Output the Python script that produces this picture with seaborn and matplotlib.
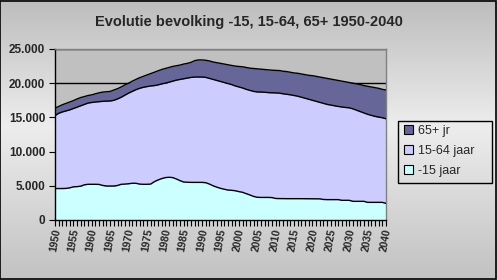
import numpy as np
import pandas as pd
import matplotlib
matplotlib.use("Agg")
import matplotlib.pyplot as plt
from matplotlib.patches import Rectangle
from matplotlib.ticker import FuncFormatter, MultipleLocator
import seaborn as sns

years = list(range(1950, 2041))

# -15 jaar (persons, thousands separator '.')
young = [4600, 4600, 4600, 4620, 4700, 4850, 4880, 4950, 5150, 5220,
         5220, 5220, 5200, 5050, 4970, 4970, 4970, 5050, 5220, 5250,
         5300, 5370, 5370, 5250, 5220, 5220, 5250, 5600, 5850, 6050,
         6200, 6250, 6200, 6000, 5750, 5550, 5520, 5500, 5500, 5500,
         5500, 5450, 5250, 5000, 4800, 4630, 4500, 4380, 4340, 4280,
         4150, 4050, 3850, 3660, 3450, 3320, 3300, 3300, 3300, 3280,
         3150, 3130, 3130, 3120, 3120, 3120, 3120, 3120, 3110, 3110,
         3100, 3100, 3090, 3000, 2980, 2980, 2980, 2980, 2880, 2880,
         2880, 2730, 2730, 2730, 2730, 2580, 2580, 2580, 2580, 2580,
         2430]

# cumulative top of 15-64 band (-15 + 15-64)
mid_top = [15270, 15600, 15800, 15950, 16100, 16300, 16500, 16700, 16900, 17100,
           17180, 17250, 17300, 17350, 17380, 17400, 17500, 17700, 17950, 18250,
           18550, 18800, 19050, 19250, 19400, 19500, 19600, 19650, 19750, 19900,
           20000, 20150, 20300, 20450, 20550, 20650, 20750, 20850, 20900, 20900,
           20900, 20850, 20700, 20550, 20400, 20250, 20100, 19950, 19800, 19600,
           19450, 19300, 19100, 18950, 18800, 18720, 18700, 18680, 18620, 18600,
           18580, 18550, 18450, 18380, 18300, 18200, 18100, 17950, 17800, 17650,
           17500, 17350, 17200, 17050, 16900, 16800, 16700, 16600, 16520, 16450,
           16400, 16250, 16050, 15850, 15650, 15450, 15300, 15150, 15050, 14950,
           14800]

# total population
total = [16350, 16600, 16850, 17050, 17250, 17450, 17700, 17900, 18050, 18200,
         18300, 18450, 18600, 18700, 18750, 18800, 19000, 19200, 19450, 19750,
         20000, 20300, 20550, 20800, 21000, 21200, 21400, 21600, 21800, 22000,
         22150, 22300, 22450, 22550, 22650, 22800, 22900, 23050, 23300, 23400,
         23400, 23350, 23250, 23100, 23000, 22900, 22800, 22700, 22600, 22500,
         22450, 22400, 22300, 22200, 22150, 22100, 22050, 22000, 21950, 21900,
         21870, 21850, 21750, 21700, 21600, 21500, 21450, 21350, 21250, 21150,
         21100, 21000, 20900, 20800, 20700, 20600, 20500, 20400, 20300, 20200,
         20100, 20000, 19900, 19800, 19650, 19550, 19450, 19350, 19250, 19100,
         19000]

adult = [m - y for m, y in zip(mid_top, young)]
old = [t - m for t, m in zip(total, mid_top)]

labels = ["65+ jr", "15-64 jaar", "-15 jaar"]
colors = {"-15 jaar": "#ccffff", "15-64 jaar": "#ccccff", "65+ jr": "#666699"}
title = "Evolutie bevolking -15, 15-64, 65+ 1950-2040"

df = pd.DataFrame({"jaar": years, "-15 jaar": young, "15-64 jaar": adult, "65+ jr": old})
df["c1"] = df["-15 jaar"]
df["c2"] = df["c1"] + df["15-64 jaar"]
df["c3"] = df["c2"] + df["65+ jr"]

sns.set_style("ticks")
plt.rcParams["font.family"] = ["Liberation Sans", "DejaVu Sans"]

W, H = 497, 280
fig = plt.figure(figsize=(W / 100, H / 100), dpi=100)

# gradient background
bg = fig.add_axes([0, 0, 1, 1], zorder=-10)
t = np.linspace(0, 1, 200)
prof = np.interp(t, [0, 0.45, 1.0], [0.74, 0.93, 0.76])
img = np.repeat(prof[:, None], 2, axis=1)
bg.imshow(np.dstack([img, img, img]), aspect="auto", extent=[0, 1, 0, 1], origin="upper")
bg.set_xlim(0, 1); bg.set_ylim(0, 1)
bg.axis("off")
bg.add_patch(Rectangle((0.001, 0.002), 0.997, 0.995, fill=False, edgecolor="black", lw=1.2,
                       transform=bg.transAxes))
# legend frame
bg.add_patch(Rectangle((398 / W, 1 - 183 / H), 94 / W, 62 / H, fill=False, edgecolor="black",
                       lw=1.0, transform=bg.transAxes))

L, R = 55 / W, 386 / W
B, T = 1 - 220 / H, 1 - 49 / H
ax = fig.add_axes([L, B, R - L, T - B])
ax.set_facecolor("#c0c0c0")

ax.fill_between(df["jaar"], 0, df["c1"], color=colors["-15 jaar"], lw=0, zorder=2)
ax.fill_between(df["jaar"], df["c1"], df["c2"], color=colors["15-64 jaar"], lw=0, zorder=2)
ax.fill_between(df["jaar"], df["c2"], df["c3"], color=colors["65+ jr"], lw=0, zorder=2)
for col in ["c1", "c2", "c3"]:
    sns.lineplot(data=df, x="jaar", y=col, ax=ax, color="black", lw=1.0, zorder=3, legend=False)

ax.set_xlim(1950, 2040)
ax.set_ylim(0, 25000)
ax.yaxis.set_major_locator(MultipleLocator(5000))
ax.yaxis.set_major_formatter(FuncFormatter(lambda v, p: f"{int(v):,}".replace(",", ".")))
ax.grid(axis="y", color="black", lw=1.0, zorder=1)
ax.set_axisbelow(True)
ax.set_xticks(years[::5])
ax.set_xticks(years, minor=True)
ax.set_xticklabels([str(y) for y in years[::5]], rotation=80, fontweight="bold", fontsize=7.5)
for lab in ax.get_yticklabels():
    lab.set_fontweight("bold")
    lab.set_fontsize(8.5)
ax.tick_params(axis="x", which="both", length=4, width=0.8, color="black", pad=2, direction="out")
ax.tick_params(axis="y", length=4, width=0.8, color="black", pad=3, direction="out")
ax.set_xlabel(""); ax.set_ylabel("")
for side in ["left", "bottom"]:
    ax.spines[side].set_color("black")
    ax.spines[side].set_linewidth(1.0)
for side in ["top", "right"]:
    ax.spines[side].set_color("#808080")
    ax.spines[side].set_linewidth(1.0)
    ax.spines[side].set_visible(True)

fig.text(0.5, 1 - 22 / H, title, ha="center", va="center", fontsize=10.5, fontweight="bold")

leg = fig.legend([Rectangle((0, 0), 1, 1, facecolor=colors[l], edgecolor="black", lw=0.8) for l in labels],
                 labels, loc="center left", bbox_to_anchor=(404 / W, 1 - 151 / H),
                 frameon=False, fontsize=9, labelspacing=0.62,
                 handlelength=0.75, handleheight=0.75, handletextpad=0.35, borderpad=0,
                 borderaxespad=0)

fig.savefig("out.png", dpi=100)
